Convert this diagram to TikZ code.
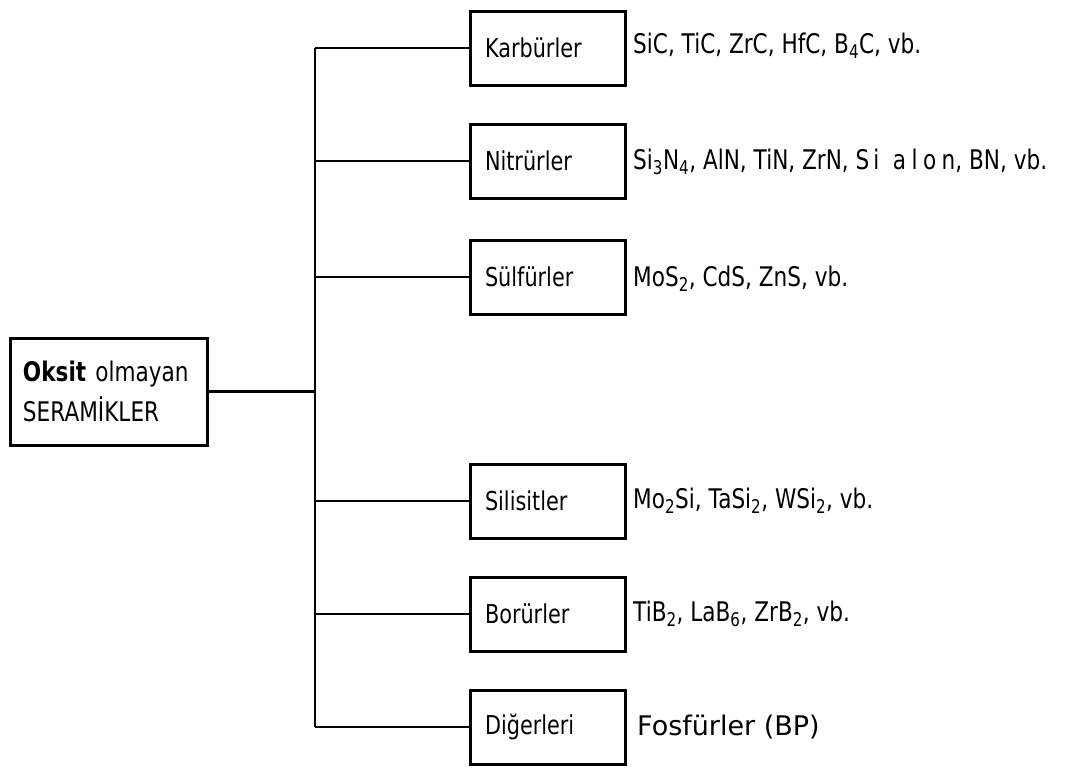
\documentclass[tikz,border=0pt]{standalone}
\usepackage{fontspec}
\setmainfont{DejaVu Sans}[FakeStretch=0.8]
\begin{document}
\begin{tikzpicture}[x=1pt,y=-1pt,
  conn/.style={line width=2.4pt, black},
  mainbox/.style={draw, line width=3pt, rectangle, minimum width=197pt, minimum height=107pt,
    text width=171pt, inner xsep=13pt, align=left, font=\fontsize{27}{40}\selectfont},
  catbox/.style={draw, line width=3pt, rectangle, minimum height=74pt,
    text width=125pt, inner xsep=15pt, align=left, font=\fontsize{26}{30}\selectfont},
  examples/.style={anchor=west, inner sep=0pt, font=\fontsize{27}{30}\selectfont}
]
\useasboundingbox (0,0) rectangle (1072,769);
\fill[white] (0,0) rectangle (1072,769);

\node[mainbox] (main) at (108.5,391.5) {\textbf{Oksit} olmayan\\SERAMİKLER};

\node[catbox] (k) at (547.5,48) {Karbürler};
\node[catbox] (n) at (547.5,161) {Nitrürler};
\node[catbox] (s) at (547.5,277) {Sülfürler};
\node[catbox] (si) at (547.5,501) {Silisitler};
\node[catbox] (b) at (547.5,614) {Borürler};
\node[catbox] (d) at (547.5,727) {Diğerleri};

\coordinate (t) at (315,0);

\draw[conn] (main.east) -- (t |- main.east);
\draw[conn] (t |- k.west) -- (t |- d.west);
\foreach \c in {k,n,s,si,b,d} {
  \draw[conn] (t |- \c.west) -- (\c.west);
}

\node[examples] (kl) at (633,46) {SiC, TiC, ZrC, HfC, B\textsubscript{4}C, vb.};
\node[examples] (nl) at (633,162) {Si\textsubscript{3}N\textsubscript{4}, AlN, TiN, ZrN, S\hspace{0.15em}i\hspace{0.5em}a\hspace{0.2em}l\hspace{0.2em}o\hspace{0.2em}n, BN, vb.};
\node[examples] (sl) at (633,279) {MoS\textsubscript{2}, CdS, ZnS, vb.};
\node[examples] (sil) at (633,501) {Mo\textsubscript{2}Si, TaSi\textsubscript{2}, WSi\textsubscript{2}, vb.};
\node[examples] (bl) at (633,614) {TiB\textsubscript{2}, LaB\textsubscript{6}, ZrB\textsubscript{2}, vb.};
\node[examples] (dl) at (637,727) {\scalebox{1.25}[1]{Fosfürler (BP)}};
\end{tikzpicture}
\end{document}
